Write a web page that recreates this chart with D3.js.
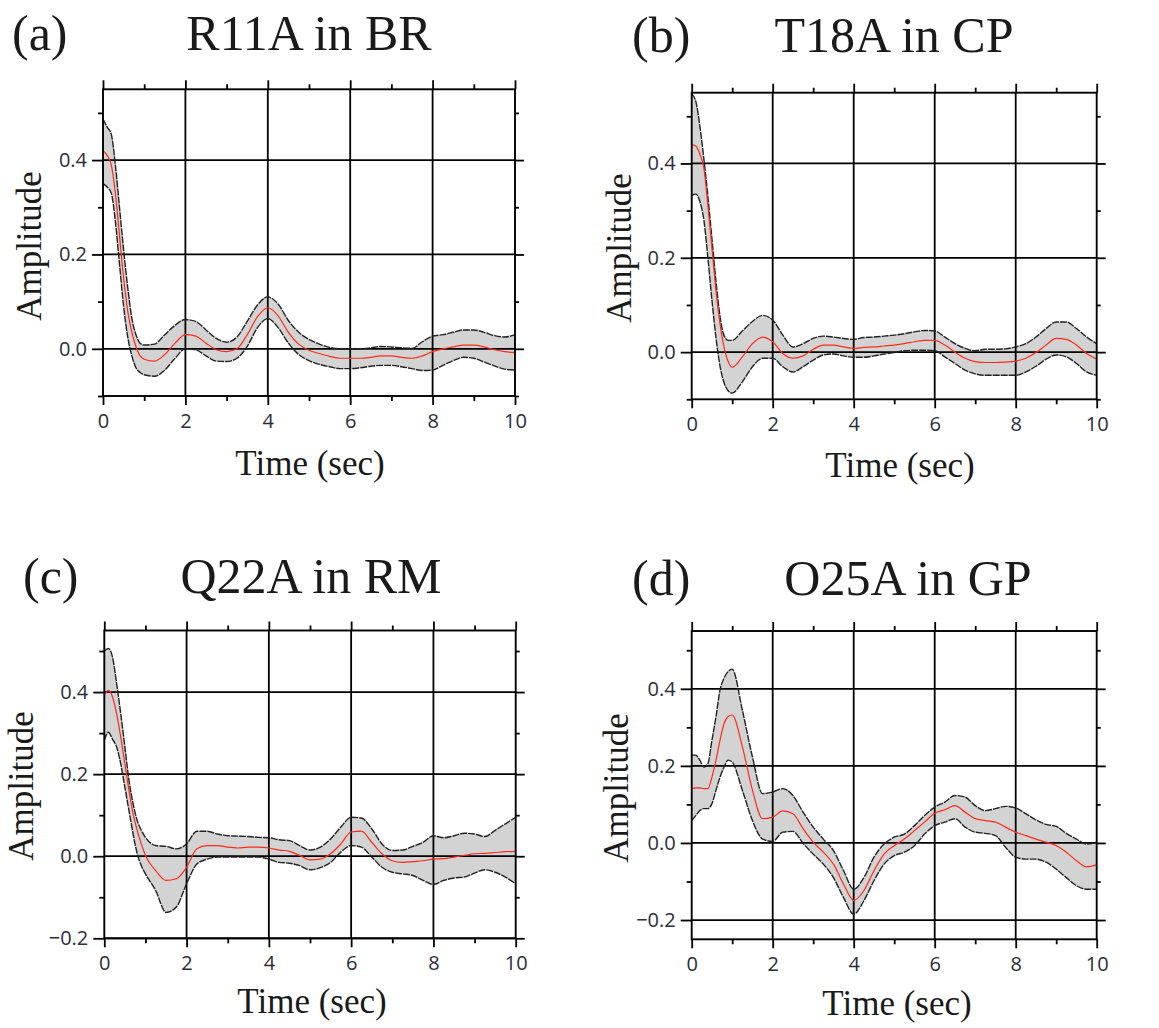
<!DOCTYPE html>
<html><head><meta charset="utf-8">
<script src="https://cdn.jsdelivr.net/npm/d3@7"></script>
<style>
html,body{margin:0;padding:0;background:#fff;}
svg{display:block;}
</style></head>
<body>
<svg id="chart" width="1159" height="1028"></svg>
<script>
// ---------------- DATA ----------------
const time = [0,0.1,0.2,0.3,0.4,0.5,0.6,0.7,0.8,0.9,1.0,
  1.25,1.5,1.75,2.0,2.25,2.5,2.75,3.0,3.25,3.5,3.75,4.0,
  4.25,4.5,4.75,5.0,5.25,5.5,5.75,6.0,6.25,6.5,6.75,7.0,
  7.25,7.5,7.75,8.0,8.25,8.5,8.75,9.0,9.25,9.5,9.75,10];

const meanA  = [0.42,0.41,0.39,0.33,0.24,0.15,0.08,0.035,0.005,-0.015,-0.022,
  -0.026,-0.012,0.012,0.03,0.027,0.012,-0.002,-0.006,0.0,0.03,0.068,0.087,
  0.07,0.035,0.01,-0.003,-0.01,-0.016,-0.02,-0.02,-0.02,-0.018,-0.015,-0.015,
  -0.018,-0.02,-0.015,-0.006,0.0,0.004,0.008,0.008,0.004,-0.002,-0.006,-0.008];
const upperA = [0.487,0.47,0.455,0.39,0.30,0.21,0.13,0.065,0.03,0.012,0.008,
  0.01,0.03,0.05,0.062,0.058,0.04,0.022,0.014,0.025,0.058,0.093,0.11,
  0.095,0.06,0.035,0.02,0.01,0.003,0.0,0.0,0.0,0.002,0.005,0.004,
  0.002,0.001,0.015,0.027,0.03,0.035,0.04,0.04,0.035,0.028,0.025,0.03];
const lowerA = [0.35,0.343,0.33,0.27,0.18,0.09,0.025,-0.015,-0.04,-0.05,-0.055,
  -0.058,-0.045,-0.02,0.0,-0.002,-0.015,-0.026,-0.027,-0.02,0.005,0.045,0.064,
  0.045,0.012,-0.012,-0.025,-0.033,-0.038,-0.042,-0.042,-0.04,-0.037,-0.035,-0.035,
  -0.038,-0.042,-0.046,-0.045,-0.035,-0.025,-0.018,-0.02,-0.028,-0.036,-0.043,-0.045];

const meanB  = [0.44,0.437,0.42,0.39,0.31,0.22,0.13,0.06,0.01,-0.02,-0.032,
  -0.01,0.018,0.032,0.022,-0.003,-0.013,-0.008,0.006,0.015,0.015,0.011,0.008,
  0.01,0.011,0.013,0.015,0.018,0.022,0.025,0.025,0.015,0.0,-0.013,-0.02,
  -0.022,-0.022,-0.021,-0.019,-0.013,-0.001,0.015,0.029,0.027,0.015,-0.003,-0.015];
const upperB = [0.548,0.532,0.48,0.41,0.33,0.24,0.15,0.075,0.035,0.025,0.025,
  0.045,0.065,0.078,0.068,0.036,0.011,0.018,0.029,0.034,0.032,0.029,0.027,
  0.031,0.032,0.034,0.036,0.039,0.043,0.046,0.045,0.032,0.018,0.008,0.003,
  0.006,0.006,0.007,0.011,0.018,0.032,0.05,0.064,0.064,0.05,0.032,0.018];
const lowerB = [0.332,0.335,0.32,0.28,0.2,0.11,0.03,-0.03,-0.065,-0.082,-0.087,
  -0.063,-0.031,-0.013,-0.013,-0.031,-0.042,-0.031,-0.017,-0.006,-0.004,-0.008,-0.011,
  -0.011,-0.008,-0.004,-0.001,0.003,0.004,0.004,0.003,-0.01,-0.024,-0.038,-0.046,
  -0.049,-0.049,-0.049,-0.049,-0.042,-0.03,-0.015,-0.006,-0.01,-0.024,-0.042,-0.049];

const meanC  = [0.392,0.404,0.388,0.347,0.29,0.225,0.16,0.103,0.063,0.03,0.002,
  -0.035,-0.059,-0.055,-0.027,0.018,0.026,0.026,0.022,0.02,0.022,0.022,0.02,
  0.015,0.012,0.002,-0.009,-0.007,0.006,0.03,0.059,0.061,0.034,0.006,-0.011,
  -0.015,-0.013,-0.011,-0.007,-0.006,-0.002,0.002,0.006,0.007,0.009,0.011,0.012];
const upperC = [0.50,0.506,0.485,0.42,0.347,0.266,0.185,0.128,0.087,0.063,0.046,
  0.026,0.024,0.018,0.03,0.061,0.061,0.054,0.05,0.049,0.048,0.046,0.045,
  0.04,0.038,0.026,0.015,0.022,0.042,0.071,0.095,0.093,0.067,0.03,0.014,
  0.015,0.024,0.034,0.05,0.045,0.05,0.056,0.054,0.048,0.063,0.079,0.095];
const lowerC = [0.282,0.302,0.285,0.266,0.225,0.168,0.111,0.054,0.006,-0.023,-0.043,
  -0.084,-0.137,-0.124,-0.067,-0.019,-0.007,-0.002,-0.002,-0.002,-0.002,-0.002,-0.007,
  -0.015,-0.017,-0.023,-0.033,-0.028,-0.015,0.01,0.026,0.022,-0.002,-0.027,-0.039,
  -0.043,-0.047,-0.059,-0.069,-0.059,-0.053,-0.051,-0.041,-0.033,-0.039,-0.051,-0.067];

const meanD  = [0.141,0.143,0.143,0.141,0.141,0.171,0.215,0.267,0.31,0.328,0.332,
  0.25,0.137,0.063,0.067,0.083,0.076,0.037,0.002,-0.024,-0.055,-0.107,-0.149,
  -0.124,-0.072,-0.029,-0.007,0.01,0.032,0.054,0.077,0.086,0.097,0.08,0.063,
  0.058,0.054,0.041,0.028,0.019,0.01,0.002,-0.007,-0.024,-0.046,-0.062,-0.057];
const upperD = [0.228,0.228,0.215,0.197,0.206,0.267,0.328,0.397,0.428,0.445,0.451,
  0.345,0.223,0.128,0.132,0.141,0.123,0.08,0.041,0.01,-0.02,-0.072,-0.12,
  -0.09,-0.037,-0.003,0.015,0.023,0.045,0.071,0.093,0.106,0.123,0.119,0.097,
  0.084,0.089,0.095,0.091,0.076,0.06,0.048,0.043,0.025,0.01,-0.003,0.002];
const lowerD = [0.058,0.071,0.084,0.089,0.089,0.102,0.137,0.171,0.197,0.215,0.21,
  0.137,0.058,0.01,0.004,0.028,0.03,-0.001,-0.029,-0.055,-0.09,-0.142,-0.185,
  -0.15,-0.098,-0.055,-0.033,-0.024,-0.007,0.023,0.045,0.054,0.063,0.041,0.028,
  0.025,0.019,-0.011,-0.037,-0.042,-0.042,-0.05,-0.068,-0.09,-0.111,-0.12,-0.12];

const panelLetters = ["(a)","(b)","(c)","(d)"];
const panelTitles  = ["R11A in BR","T18A in CP","Q22A in RM","O25A in GP"];
const xLabel = "Time (sec)";
const yLabel = "Amplitude";
const xMajorTicks = [0,2,4,6,8,10];
const xMinorTicks = [1,3,5,7,9];
const yMajorTicksTop = [0,0.2,0.4];
const yMajorTicksBottom = [-0.2,0,0.2,0.4];
const yMinorTicks = [-0.1,0.1,0.3,0.5];
const yDomainA = [-0.1,0.55];
const yDomainB = [-0.1,0.55];
const yDomainC = [-0.2,0.55];
const yDomainD = [-0.25,0.55];

// ---------------- LAYOUT ----------------
const panels = [
  {mean:meanA, upper:upperA, lower:lowerA, yDom:yDomainA, yMaj:yMajorTicksTop,
   box:{l:103,r:515,t:89.3,b:396}, letter:{x:12,y:50}, title:{x:309,y:50},
   xl:{x:310,y:475}, yl:{x:41,y:246}},
  {mean:meanB, upper:upperB, lower:lowerB, yDom:yDomainB, yMaj:yMajorTicksTop,
   box:{l:691.7,r:1096.7,t:92.7,b:399.3}, letter:{x:632,y:52}, title:{x:894,y:52},
   xl:{x:900,y:477}, yl:{x:631,y:248}},
  {mean:meanC, upper:upperC, lower:lowerC, yDom:yDomainC, yMaj:yMajorTicksBottom,
   box:{l:104.3,r:515.7,t:630.5,b:938.3}, letter:{x:23,y:593}, title:{x:311,y:593},
   xl:{x:312,y:1013}, yl:{x:33,y:786}},
  {mean:meanD, upper:upperD, lower:lowerD, yDom:yDomainD, yMaj:yMajorTicksBottom,
   box:{l:691.7,r:1096.7,t:631,b:939.3}, letter:{x:632,y:595}, title:{x:908,y:595},
   xl:{x:897,y:1015}, yl:{x:628,y:788}}
];

const svg = d3.select("#chart");
const serif = "'Liberation Serif','Times New Roman',serif";
const sans = "'Open Sans','Noto Sans',sans-serif";
const tickColor = "#2b2d3a";

panels.forEach((p, i) => {
  const B = p.box;
  const x = d3.scaleLinear().domain([0,10]).range([B.l, B.r]);
  const y = d3.scaleLinear().domain(p.yDom).range([B.b, B.t]);
  const g = svg.append("g");
  const rows = time.map((t, k) => ({t, m:p.mean[k], u:p.upper[k], lo:p.lower[k]}));

  // band
  const area = d3.area().x(d => x(d.t)).y0(d => y(d.lo)).y1(d => y(d.u)).curve(d3.curveMonotoneX);
  g.append("path").datum(rows).attr("d", area).attr("fill", "#d3d3d3").attr("stroke", "none");

  // grid lines
  const xGrid = xMajorTicks.filter(v => v > 0 && v < 10);
  g.selectAll(".gx").data(xGrid).join("line")
    .attr("x1", d => x(d)).attr("x2", d => x(d)).attr("y1", B.t).attr("y2", B.b)
    .attr("stroke", "#000").attr("stroke-width", 1.8);
  g.selectAll(".gy").data(p.yMaj).join("line")
    .attr("x1", B.l).attr("x2", B.r).attr("y1", d => y(d)).attr("y2", d => y(d))
    .attr("stroke", "#000").attr("stroke-width", 1.8);

  // band outlines
  const lineU = d3.line().x(d => x(d.t)).y(d => y(d.u)).curve(d3.curveMonotoneX);
  const lineL = d3.line().x(d => x(d.t)).y(d => y(d.lo)).curve(d3.curveMonotoneX);
  [lineU, lineL].forEach(ln => {
    g.append("path").datum(rows).attr("d", ln).attr("fill", "none")
      .attr("stroke", "#222").attr("stroke-width", 1.4).attr("stroke-dasharray", "7,1");
  });
  // mean line
  const lineM = d3.line().x(d => x(d.t)).y(d => y(d.m)).curve(d3.curveMonotoneX);
  g.append("path").datum(rows).attr("d", lineM).attr("fill", "none")
    .attr("stroke", "#ff2a1a").attr("stroke-width", 1.2);

  // frame
  g.append("rect").attr("x", B.l).attr("y", B.t).attr("width", B.r - B.l).attr("height", B.b - B.t)
    .attr("fill", "none").attr("stroke", "#000").attr("stroke-width", 1.9);

  const styleAxis = (sel) => {
    sel.select(".domain").remove();
    sel.selectAll(".tick line").attr("stroke", "#000").attr("stroke-width", 1.8);
  };

  // bottom axis
  const bx = g.append("g").attr("transform", `translate(0,${B.b})`)
    .call(d3.axisBottom(x).tickValues(xMajorTicks).tickSize(9).tickPadding(9).tickFormat(d3.format("d")));
  styleAxis(bx);
  bx.selectAll("text").attr("font-family", sans).attr("font-size", 20).attr("fill", tickColor);
  const bxm = g.append("g").attr("transform", `translate(0,${B.b})`)
    .call(d3.axisBottom(x).tickValues(xMinorTicks).tickSize(5).tickFormat(""));
  styleAxis(bxm);
  // top axis
  const tx = g.append("g").attr("transform", `translate(0,${B.t})`)
    .call(d3.axisTop(x).tickValues(xMajorTicks).tickSize(9).tickFormat(""));
  styleAxis(tx);
  const txm = g.append("g").attr("transform", `translate(0,${B.t})`)
    .call(d3.axisTop(x).tickValues(xMinorTicks).tickSize(5).tickFormat(""));
  styleAxis(txm);
  // left axis
  const ly = g.append("g").attr("transform", `translate(${B.l},0)`)
    .call(d3.axisLeft(y).tickValues(p.yMaj).tickSize(11).tickPadding(5).tickFormat(d3.format(".1f")));
  styleAxis(ly);
  ly.selectAll("text").attr("font-family", sans).attr("font-size", 20).attr("fill", tickColor);
  const lym = g.append("g").attr("transform", `translate(${B.l},0)`)
    .call(d3.axisLeft(y).tickValues(yMinorTicks.filter(v => v >= p.yDom[0] && v <= p.yDom[1])).tickSize(5).tickFormat(""));
  styleAxis(lym);
  // right axis
  const ry = g.append("g").attr("transform", `translate(${B.r},0)`)
    .call(d3.axisRight(y).tickValues(p.yMaj).tickSize(9).tickFormat(""));
  styleAxis(ry);
  const rym = g.append("g").attr("transform", `translate(${B.r},0)`)
    .call(d3.axisRight(y).tickValues(yMinorTicks.filter(v => v >= p.yDom[0] && v <= p.yDom[1])).tickSize(4).tickFormat(""));
  styleAxis(rym);

  // texts
  svg.append("text").attr("x", p.letter.x).attr("y", p.letter.y)
    .attr("font-family", serif).attr("font-size", 50).attr("fill", "#1a1a1a").text(panelLetters[i]);
  svg.append("text").attr("x", p.title.x).attr("y", p.title.y).attr("text-anchor", "middle")
    .attr("font-family", serif).attr("font-size", 50).attr("fill", "#1a1a1a").text(panelTitles[i]);
  svg.append("text").attr("x", p.xl.x).attr("y", p.xl.y).attr("text-anchor", "middle")
    .attr("font-family", serif).attr("font-size", 35).attr("fill", "#1a1a1a").text(xLabel);
  svg.append("text").attr("transform", `translate(${p.yl.x},${p.yl.y}) rotate(-90)`)
    .attr("text-anchor", "middle")
    .attr("font-family", serif).attr("font-size", 35).attr("fill", "#1a1a1a").text(yLabel);
});
</script>
</body></html>
